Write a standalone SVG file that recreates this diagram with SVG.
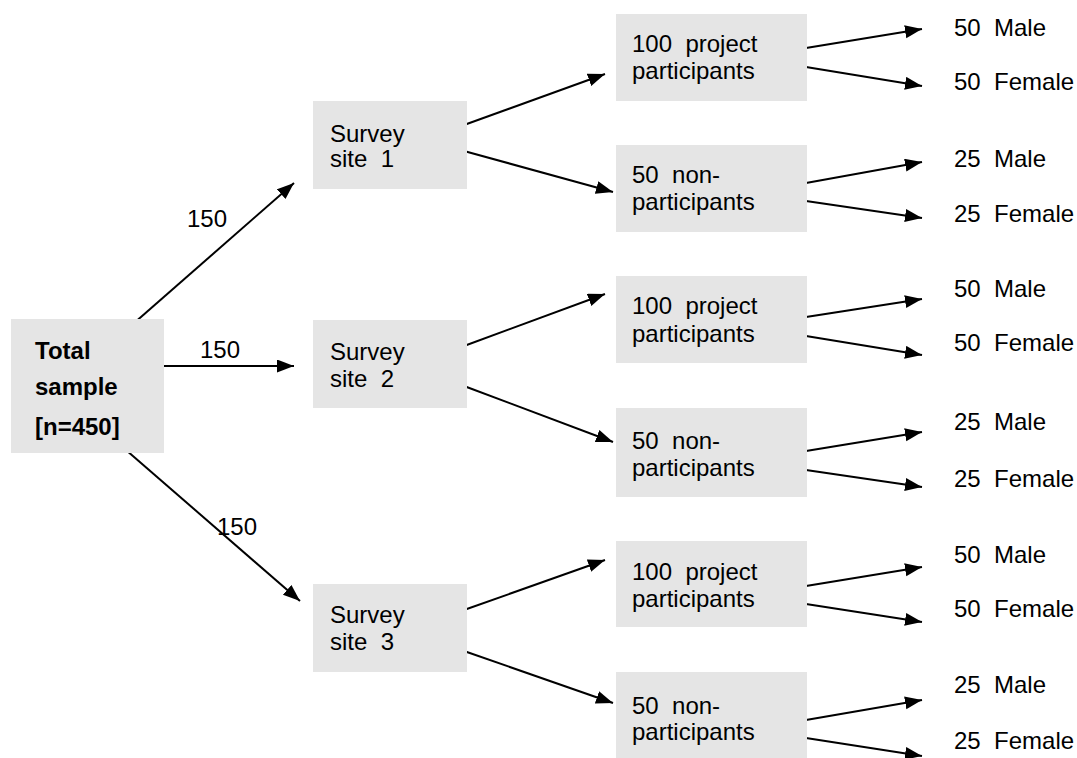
<svg xmlns="http://www.w3.org/2000/svg" width="1077" height="758" viewBox="0 0 1077 758">
  <style>
    .box { fill: #e5e5e5; }
    text { font-family: "Liberation Sans", Arial, sans-serif; font-size: 24px; fill: #000; white-space: pre; }
    .bold { font-weight: bold; }
    .edge { stroke: #000; stroke-width: 2; fill: none; marker-end: url(#arrow); }
  </style>
  <defs>
    <marker id="arrow" markerUnits="userSpaceOnUse" markerWidth="18" markerHeight="14" refX="17" refY="6.5" orient="auto">
      <path d="M0,0 L17,6.5 L0,13 Z" fill="#000"/>
    </marker>
  </defs>
  <rect width="1077" height="758" fill="#fff"/>

  <!-- connectors -->
  <g id="connectors">
    <line class="edge" x1="133" y1="324" x2="294" y2="183"/>
    <line class="edge" x1="159" y1="366" x2="294" y2="366"/>
    <line class="edge" x1="126" y1="450" x2="300" y2="601"/>

    <line class="edge" x1="464" y1="125" x2="605" y2="74"/>
    <line class="edge" x1="464" y1="151" x2="613" y2="192"/>
    <line class="edge" x1="464" y1="346" x2="605" y2="294"/>
    <line class="edge" x1="464" y1="386" x2="613" y2="442"/>
    <line class="edge" x1="464" y1="610" x2="605" y2="560"/>
    <line class="edge" x1="464" y1="651" x2="613" y2="703"/>

    <line class="edge" x1="806" y1="48" x2="922" y2="29"/>
    <line class="edge" x1="806" y1="67" x2="922" y2="86"/>
    <line class="edge" x1="806" y1="183" x2="922" y2="162"/>
    <line class="edge" x1="806" y1="201" x2="922" y2="218"/>
    <line class="edge" x1="806" y1="317" x2="922" y2="299"/>
    <line class="edge" x1="806" y1="336" x2="922" y2="355"/>
    <line class="edge" x1="806" y1="451" x2="922" y2="432"/>
    <line class="edge" x1="806" y1="470" x2="922" y2="487"/>
    <line class="edge" x1="806" y1="586" x2="922" y2="567"/>
    <line class="edge" x1="806" y1="604" x2="922" y2="622"/>
    <line class="edge" x1="806" y1="720" x2="922" y2="700"/>
    <line class="edge" x1="806" y1="738" x2="922" y2="756"/>

    <text x="187" y="227">150</text>
    <text x="200" y="358">150</text>
    <text x="217" y="535">150</text>
  </g>

  <!-- root -->
  <g id="total">
    <rect class="box" x="11" y="319" width="153" height="134"/>
    <text class="bold" x="35" y="359">Total</text>
    <text class="bold" x="35" y="395">sample</text>
    <text class="bold" x="35" y="435">[n=450]</text>
  </g>

  <!-- survey sites -->
  <g id="site1">
    <rect class="box" x="313" y="101" width="154" height="88"/>
    <text x="330" y="142">Survey</text>
    <text x="330" y="167" xml:space="preserve">site  1</text>
  </g>
  <g id="site2">
    <rect class="box" x="313" y="320" width="154" height="88"/>
    <text x="330" y="360">Survey</text>
    <text x="330" y="387" xml:space="preserve">site  2</text>
  </g>
  <g id="site3">
    <rect class="box" x="313" y="584" width="154" height="88"/>
    <text x="330" y="623">Survey</text>
    <text x="330" y="650" xml:space="preserve">site  3</text>
  </g>

  <!-- participant groups -->
  <g id="participants1">
    <rect class="box" x="616" y="14" width="191" height="87"/>
    <text x="632" y="52" xml:space="preserve">100  project</text>
    <text x="632" y="79">participants</text>
  </g>
  <g id="nonparticipants1">
    <rect class="box" x="616" y="145" width="191" height="87"/>
    <text x="632" y="183" xml:space="preserve">50  non-</text>
    <text x="632" y="210">participants</text>
  </g>
  <g id="participants2">
    <rect class="box" x="616" y="276" width="191" height="87"/>
    <text x="632" y="314" xml:space="preserve">100  project</text>
    <text x="632" y="342">participants</text>
  </g>
  <g id="nonparticipants2">
    <rect class="box" x="616" y="408" width="191" height="89"/>
    <text x="632" y="449" xml:space="preserve">50  non-</text>
    <text x="632" y="476">participants</text>
  </g>
  <g id="participants3">
    <rect class="box" x="616" y="541" width="191" height="86"/>
    <text x="632" y="580" xml:space="preserve">100  project</text>
    <text x="632" y="607">participants</text>
  </g>
  <g id="nonparticipants3">
    <rect class="box" x="616" y="672" width="191" height="88"/>
    <text x="632" y="714" xml:space="preserve">50  non-</text>
    <text x="632" y="740">participants</text>
  </g>

  <!-- gender breakdown -->
  <g id="gender1">
    <text x="954" y="36" xml:space="preserve">50  Male</text>
    <text x="954" y="90" xml:space="preserve">50  Female</text>
  </g>
  <g id="gender2">
    <text x="954" y="167" xml:space="preserve">25  Male</text>
    <text x="954" y="222" xml:space="preserve">25  Female</text>
  </g>
  <g id="gender3">
    <text x="954" y="297" xml:space="preserve">50  Male</text>
    <text x="954" y="351" xml:space="preserve">50  Female</text>
  </g>
  <g id="gender4">
    <text x="954" y="430" xml:space="preserve">25  Male</text>
    <text x="954" y="487" xml:space="preserve">25  Female</text>
  </g>
  <g id="gender5">
    <text x="954" y="563" xml:space="preserve">50  Male</text>
    <text x="954" y="617" xml:space="preserve">50  Female</text>
  </g>
  <g id="gender6">
    <text x="954" y="693" xml:space="preserve">25  Male</text>
    <text x="954" y="749" xml:space="preserve">25  Female</text>
  </g>
</svg>
